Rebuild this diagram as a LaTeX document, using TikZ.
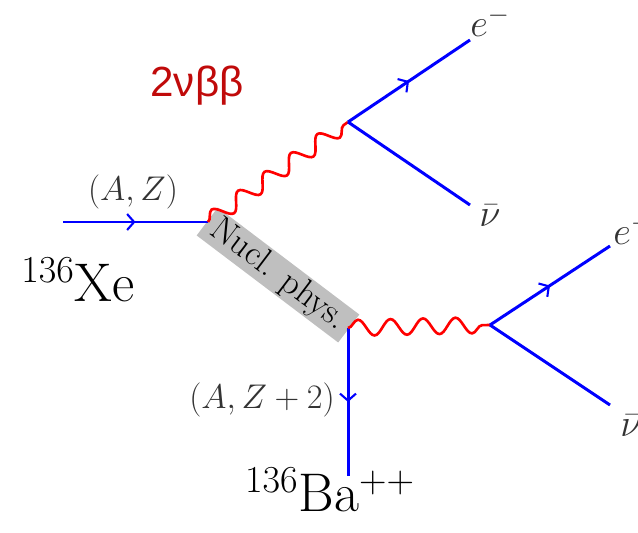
\RequirePackage{fix-cm}
\documentclass[tikz,border=0pt]{standalone}
\usepackage{fontspec}
\newfontfamily\labelsans{Liberation Sans}
\usetikzlibrary{arrows.meta, decorations.pathmorphing, decorations.markings, calc}
\definecolor{procred}{RGB}{192,10,10}

\begin{document}
\begin{tikzpicture}[
    x=0.02cm, y=-0.02cm,
    % Styles
    fermion/.style={blue, line width=1.7pt, postaction={decorate},
        decoration={markings, mark=at position 0.5 with {\arrow{Straight Barb[length=1.4mm, width=3.2mm, line width=1.2pt]}}}},
    neutrino/.style={blue, line width=1.7pt},
    photon/.style={red, line width=1.5pt, decorate,
        decoration={snake, segment length=0.65cm, amplitude=0.16cm}},
    nucl/.style={fill=gray!50, minimum width=3.55cm, minimum height=0.62cm, inner sep=1pt,
        font=\fontsize{20}{22}\selectfont},
    lab/.style={font=\fontsize{19.5}{22}\selectfont, text=black!80},
    big/.style={font=\fontsize{31}{35}\selectfont},
]
\useasboundingbox (0,0) rectangle (638,533);

% === VERTICES ===
\coordinate (in) at (63,222);
\coordinate (A) at (208,222);
\coordinate (B) at (348,328);
\coordinate (out) at (348,476);
\coordinate (C) at (348,122);
\coordinate (D) at (490,325);
\coordinate (e1) at (470,40);
\coordinate (nu1) at (470,205);
\coordinate (e2) at (610,246);
\coordinate (nu2) at (610,405);

% Nuclear part
\node[nucl, rotate=-37.1] (blob) at ($(A)!0.5!(B)$) {Nucl. phys.};
\draw[fermion] (in) -- (A);
\draw[fermion] (B) -- (out);

% W lines
\draw[photon] (A) -- (C);
\draw[photon] (B) -- (D);

% Leptons
\draw[fermion] (C) -- (e1);
\draw[neutrino] (C) -- (nu1);
\draw[fermion] (D) -- (e2);
\draw[neutrino] (D) -- (nu2);

% === LABELS ===
\node[lab] (az) at (133,192) {$(A,Z)$};
\node[lab] (az2) at (262,400) {$(A,Z+2)$};
\node[big] (xe) at (78,280) {$^{136}$Xe};
\node[big] (ba) at (330,490) {$^{136}$Ba$^{++}$};
\node[lab, font=\fontsize{22}{24}\selectfont] (le1) at (490,22) {$e^-$};
\node[lab, font=\fontsize{22}{24}\selectfont] (lnu1) at (490,216) {$\bar\nu$};
\node[lab, font=\fontsize{22}{24}\selectfont] (le2) at (633,230) {$e^-$};
\node[lab, font=\fontsize{22}{24}\selectfont] (lnu2) at (631,426) {$\bar\nu$};
\node[text=procred, font=\labelsans\fontsize{24}{28}\selectfont] (mode) at (197,86) {2νββ};

\end{tikzpicture}
\end{document}
